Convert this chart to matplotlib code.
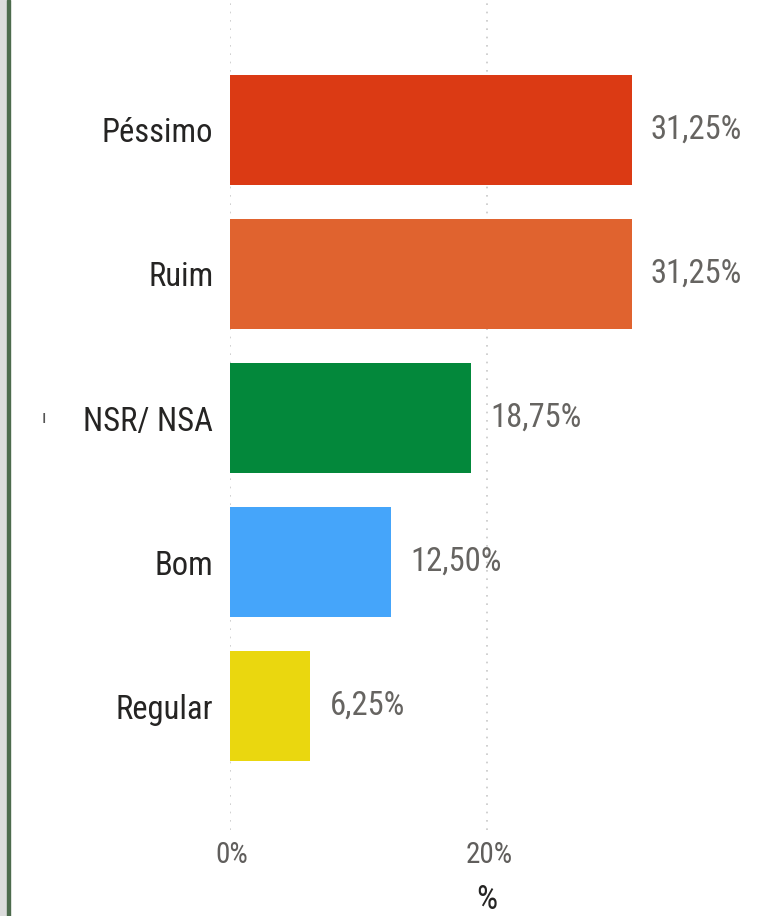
import matplotlib.pyplot as plt
import matplotlib.patches as mpatches
from matplotlib import font_manager as fm

# data
categories = ["Péssimo", "Ruim", "NSR/ NSA", "Bom", "Regular"]
values = [31.25, 31.25, 18.75, 12.50, 6.25]
value_labels = ["31,25%", "31,25%", "18,75%", "12,50%", "6,25%"]
bar_colors = ["#DB3A14", "#E0632F", "#03883B", "#45A5FA", "#EAD70F"]
xticks = [0, 20]
xtick_labels = ["0%", "20%"]

W, H = 771, 916
fig = plt.figure(figsize=(W / 100, H / 100), dpi=100)
fig.patch.set_facecolor("white")

# pick a light/regular condensed face if one is installed
fam = "Roboto Condensed"
wt = "normal"
light = [f for f in fm.fontManager.ttflist if f.name == "Open Sans Condensed" and f.weight in (300, "light")]
if light:
    fam, wt = "Open Sans Condensed", "light"
fnt = [fam, "DejaVu Sans"]

# left frame strip
fig.patches.append(mpatches.Rectangle((0, 0), 7 / W, 1, transform=fig.transFigure,
                                      color="#dcdcdc", zorder=0))
fig.patches.append(mpatches.Rectangle((7 / W, 0), 3 / W, 1, transform=fig.transFigure,
                                      color="#4d6b4d", zorder=0))

# axes: x=0 at px 230, 12.85 px per %
ax_left = 230 / W
ax_bot_px = 830
ax = fig.add_axes([ax_left, 1 - ax_bot_px / H, 1 - ax_left, ax_bot_px / H])
ax.set_xlim(0, (W - 230) / 12.85)
ax.set_ylim((830 - 130) / 144, -130 / 144)

ypos = list(range(len(categories)))
ax.barh(ypos, values, height=110 / 144, color=bar_colors, zorder=2)

for y, v, lab in zip(ypos, values, value_labels):
    ax.text(v + 1.5, y, lab, va="center", ha="left", fontsize=23.5,
            color="#666461", family=fnt, weight=wt)

for xt in xticks:
    ax.axvline(xt, color="#c8c8c8", linestyle=(0, (1, 4)), linewidth=1.2, zorder=1)

ax.set_yticks(ypos)
ax.set_yticklabels(categories, fontsize=23.5, color="#252423", family=fnt, weight=wt)
ax.tick_params(axis="y", length=0, pad=12)
ax.set_xticks([])
for s in ax.spines.values():
    s.set_visible(False)

# x tick labels and axis title placed below the plot area
for xt, lab in zip(xticks, xtick_labels):
    fig.text((232 + xt * 12.85) / W, 1 - 855 / H, lab, ha="center", va="center",
             fontsize=21, color="#605E5C", family=fnt, weight=wt)
fig.text(487 / W, 1 - 900 / H, "%", ha="center", va="center", fontsize=24,
         color="#252423", family=fnt, weight=wt)

# small mark left of NSR/ NSA
fig.text(44 / W, 1 - 418 / H, "ı", ha="center", va="center", fontsize=14,
         color="#555555", family=fnt)

fig.savefig("out.png", dpi=100, facecolor="white")
